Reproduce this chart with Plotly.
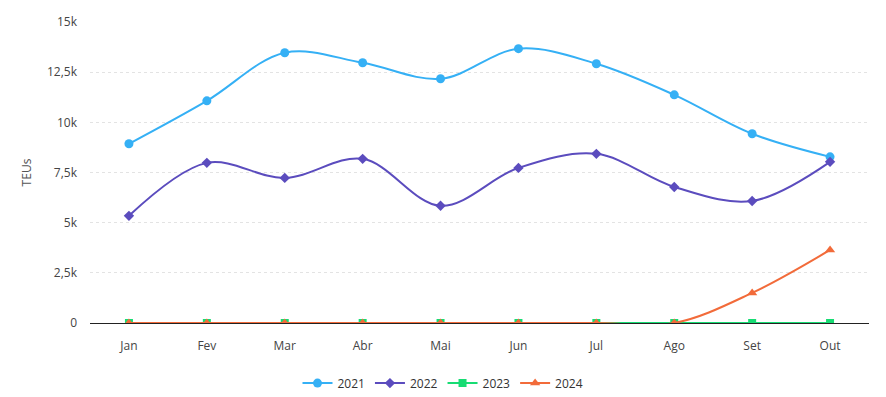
import plotly.graph_objects as go

months = ["Jan", "Fev", "Mar", "Abr", "Mai", "Jun", "Jul", "Ago", "Set", "Out"]
teu_2021 = [8930, 11070, 13470, 12970, 12170, 13670, 12920, 11370, 9430, 8280]
teu_2022 = [5340, 7980, 7230, 8180, 5840, 7730, 8430, 6780, 6080, 8030]
teu_2023 = [0, 0, 0, 0, 0, 0, 0, 0, 0, 0]
teu_2024 = [0, 0, 0, 0, 0, 0, 0, 0, 1500, 3640]
tick_vals = [0, 2500, 5000, 7500, 10000, 12500, 15000]
tick_text = ["0", "2,5k", "5k", "7,5k", "10k", "12,5k", "15k"]

series = [
    ("2021", teu_2021, "#35B0F5", "circle", 9),
    ("2022", teu_2022, "#5B4CBE", "diamond", 8),
    ("2023", teu_2023, "#17DC73", "square", 8),
    ("2024", teu_2024, "#F26B3A", "triangle-up", 9),
]

fig = go.Figure()
for name, vals, color, sym, size in series:
    fig.add_trace(go.Scatter(
        x=months, y=vals, name=name, mode="lines+markers",
        line=dict(color=color, width=2, shape="spline", smoothing=1.0),
        marker=dict(color=color, symbol=sym, size=size),
    ))

fig.update_layout(
    width=886, height=397,
    margin=dict(l=90, r=17, t=22, b=74, autoexpand=False),
    paper_bgcolor="white", plot_bgcolor="white",
    font=dict(family="Open Sans, Noto Sans, sans-serif", size=12, color="#444"),
    showlegend=True,
    legend=dict(orientation="h", x=0.5, xanchor="center", xref="container",
                y=0.035, yanchor="middle", yref="container",
                font=dict(size=12, color="#333")),
    xaxis=dict(
        type="category", range=[-0.5, 9.5], showgrid=False, automargin=False,
        showline=True, linecolor="#222", linewidth=1, layer="above traces",
        ticks="", ticklabelstandoff=12, tickfont=dict(size=12, color="#444"),
    ),
    yaxis=dict(
        range=[0, 15000], tickvals=tick_vals, ticktext=tick_text, automargin=False,
        showgrid=True, gridcolor="#E3E3E3", griddash="dot", gridwidth=1,
        zeroline=False, showline=False, ticks="", ticklabelstandoff=12,
        title=dict(text="TEUs", font=dict(size=12, color="#555"), standoff=12),
        tickfont=dict(size=12, color="#444"),
    ),
)

fig.write_html("out.html", config={"displayModeBar": False},
               post_script="document.body.style.margin='0';document.body.style.overflow='hidden';")
